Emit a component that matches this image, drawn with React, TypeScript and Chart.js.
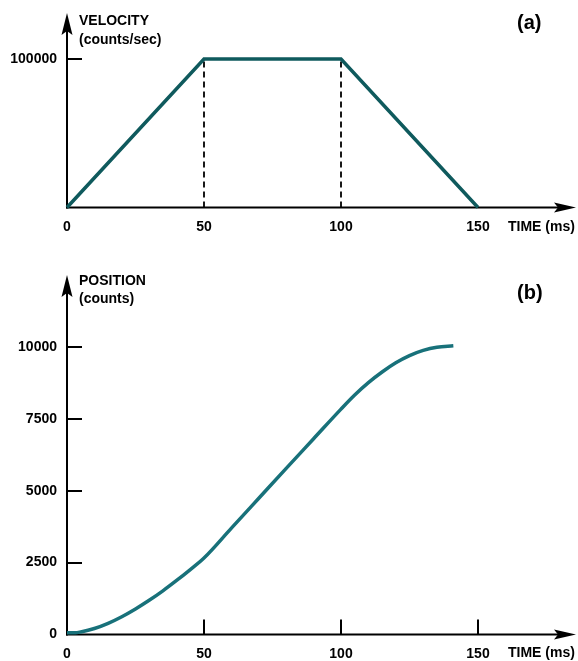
import React, { useEffect, useRef } from 'react';
import { Chart, registerables } from 'chart.js';
Chart.register(...registerables);

// ---- data ----
const xTicks = [0, 50, 100, 150];
const velTime = [0, 50, 100, 150];
const velocity = [0, 100000, 100000, 0];
const velTicks = [100000];
const dashTimes = [50, 100];
const posTime = [0, 3, 5, 10, 15, 20, 25, 30, 35, 40, 45, 50, 60, 70, 80, 90, 100, 105, 110, 115, 120, 125, 130, 135, 141];
const position = [60, 60, 90, 210, 390, 620, 890, 1190, 1520, 1880, 2260, 2660, 3700, 4740, 5780, 6810, 7840, 8330, 8760, 9130, 9450, 9700, 9880, 9990, 10040];
const posTicks = [0, 2500, 5000, 7500, 10000];
const posTickMarksX = [50, 100, 150];

const FONT = "'Liberation Sans', Arial, Helvetica, sans-serif";
const VEL_COLOR = '#0f5a5d';
const POS_COLOR = '#18717a';

const decor = {
  id: 'decor',
  beforeDatasetsDraw(chart: any, _a: any, o: any) {
    const ctx = chart.ctx;
    const { left, bottom } = chart.chartArea;
    const xs = chart.scales.x;
    const ys = chart.scales.y;
    ctx.save();
    ctx.strokeStyle = '#000';
    ctx.fillStyle = '#000';
    ctx.lineWidth = 2;
    // y axis
    ctx.beginPath();
    ctx.moveTo(left, bottom + 1);
    ctx.lineTo(left, o.yTip + 12);
    ctx.stroke();
    ctx.beginPath();
    ctx.moveTo(left, o.yTip);
    ctx.lineTo(left - 5.5, o.yTip + 22);
    ctx.lineTo(left, o.yTip + 18);
    ctx.lineTo(left + 5.5, o.yTip + 22);
    ctx.closePath();
    ctx.fill();
    // x axis
    const tip = 576;
    ctx.beginPath();
    ctx.moveTo(left - 1, bottom);
    ctx.lineTo(tip - 12, bottom);
    ctx.stroke();
    ctx.beginPath();
    ctx.moveTo(tip, bottom);
    ctx.lineTo(tip - 22, bottom - 5);
    ctx.lineTo(tip - 18, bottom);
    ctx.lineTo(tip - 22, bottom + 5);
    ctx.closePath();
    ctx.fill();
    // tick marks
    for (const v of o.yMarks) {
      const y = Math.round(ys.getPixelForValue(v));
      ctx.beginPath();
      ctx.moveTo(left, y);
      ctx.lineTo(left + 15, y);
      ctx.stroke();
    }
    for (const v of o.xMarks) {
      const x = Math.round(xs.getPixelForValue(v));
      ctx.beginPath();
      ctx.moveTo(x, bottom);
      ctx.lineTo(x, bottom - 15);
      ctx.stroke();
    }
    ctx.restore();
  },
  afterDraw(chart: any, _a: any, o: any) {
    const ctx = chart.ctx;
    const { left } = chart.chartArea;
    ctx.save();
    ctx.fillStyle = '#000';
    ctx.textBaseline = 'middle';
    ctx.textAlign = 'left';
    ctx.font = `bold 14px ${FONT}`;
    o.title.forEach((t: string, i: number) => ctx.fillText(t, left + 12, o.titleY[i]));
    ctx.fillText('TIME (ms)', 508, o.timeY);
    ctx.font = `bold 20px ${FONT}`;
    ctx.fillText(o.panel, 517, o.panelY);
    ctx.restore();
  },
};

function makeChart(canvas: HTMLCanvasElement, cfg: any) {
  const tickFont = { family: FONT, weight: 'bold' as const, size: 14 };
  return new Chart(canvas, {
    type: 'line',
    data: { datasets: cfg.datasets },
    options: {
      animation: false,
      responsive: false,
      devicePixelRatio: 1,
      events: [],
      layout: { padding: { left: 0, right: 100, top: cfg.top, bottom: 0 } },
      plugins: { legend: { display: false }, tooltip: { enabled: false }, decor: cfg.decor } as any,
      elements: { point: { radius: 0 } },
      scales: {
        x: {
          type: 'linear',
          min: 0,
          max: 150,
          grid: { display: false, drawTicks: false },
          border: { display: false },
          afterBuildTicks: (s: any) => { s.ticks = xTicks.map((v) => ({ value: v })); },
          ticks: { font: tickFont, color: '#000', padding: 11, maxRotation: 0, autoSkip: false, callback: (v: any) => String(v) },
          afterFit: (s: any) => { s.height = cfg.xHeight; },
        },
        y: {
          type: 'linear',
          min: 0,
          max: cfg.yMax,
          grid: { display: false, drawTicks: false },
          border: { display: false },
          afterBuildTicks: (s: any) => { s.ticks = cfg.yTicks.map((v: number) => ({ value: v })); },
          ticks: { font: tickFont, color: '#000', padding: 10, autoSkip: false, callback: (v: any) => String(v) },
          afterFit: (s: any) => { s.width = 67; },
        },
      },
    } as any,
    plugins: [decor],
  });
}

export default function App() {
  const topRef = useRef<HTMLCanvasElement>(null);
  const botRef = useRef<HTMLCanvasElement>(null);
  useEffect(() => {
    const velData = velTime.map((t, i) => ({ x: t, y: velocity[i] }));
    const dashSets = dashTimes.map((t) => ({
      data: [{ x: t, y: 0 }, { x: t, y: velocity[velTime.indexOf(t)] }],
      borderColor: '#000',
      borderWidth: 1.8,
      borderDash: [6, 4],
      pointRadius: 0,
      clip: false,
      order: 2,
    }));
    const top = makeChart(topRef.current!, {
      top: 59,
      xHeight: 32.5,
      yMax: 100000,
      yTicks: velTicks,
      datasets: [
        { data: velData, borderColor: VEL_COLOR, borderWidth: 3.5, pointRadius: 0, clip: false, order: 0, borderJoinStyle: 'miter' },
        ...dashSets,
      ],
      decor: { yTip: 13, yMarks: velTicks, xMarks: [], title: ['VELOCITY', '(counts/sec)'], titleY: [21, 40], timeY: 227, panel: '(a)', panelY: 23 },
    });
    const posData = posTime.map((t, i) => ({ x: t, y: position[i] }));
    const bot = makeChart(botRef.current!, {
      top: 107,
      xHeight: 26.5,
      yMax: 10000,
      yTicks: posTicks,
      datasets: [
        { data: posData, borderColor: POS_COLOR, borderWidth: 3.5, pointRadius: 0, clip: false, cubicInterpolationMode: 'monotone' },
      ],
      decor: { yTip: 35, yMarks: posTicks.filter((v) => v > 0), xMarks: posTickMarksX, title: ['POSITION', '(counts)'], titleY: [41, 59], timeY: 413, panel: '(b)', panelY: 53 },
    });
    return () => { top.destroy(); bot.destroy(); };
  }, []);
  return (
    <div style={{ position: 'fixed', left: 0, top: 0, width: 578, height: 661, background: '#fff' }}>
      <canvas ref={topRef} width={578} height={240} style={{ position: 'absolute', left: 0, top: 0, width: 578, height: 240 }} />
      <canvas ref={botRef} width={578} height={421} style={{ position: 'absolute', left: 0, top: 240, width: 578, height: 421 }} />
    </div>
  );
}
